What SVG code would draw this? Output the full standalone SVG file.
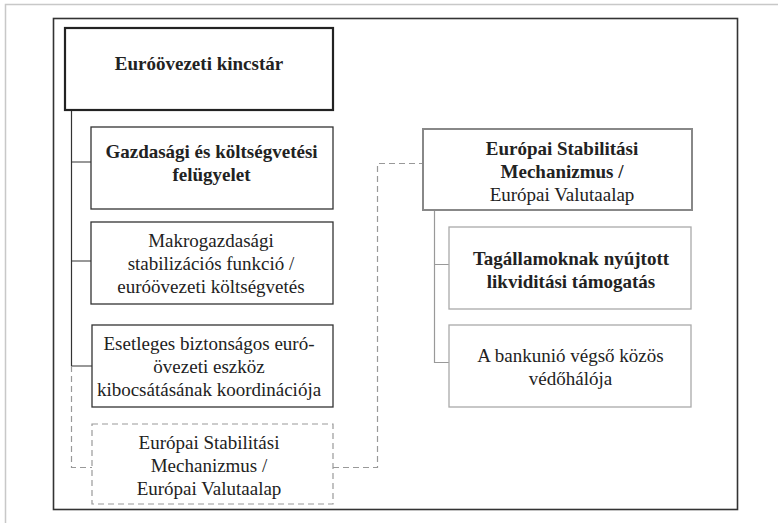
<svg xmlns="http://www.w3.org/2000/svg" width="778" height="523" viewBox="0 0 778 523">
<style>
text{font-family:'Liberation Serif','Times New Roman',serif;font-size:19px;fill:#222;text-anchor:middle}
.b{font-weight:bold}
.dark{fill:#fff;stroke:#333;stroke-width:1.3}
.light{fill:#fff;stroke:#aaa;stroke-width:1.3}
.dash{fill:#fff;stroke:#999;stroke-width:1.2;stroke-dasharray:6 4}
.cd{fill:none;stroke:#333;stroke-width:1.2}
.cl{fill:none;stroke:#999;stroke-width:1.2}
.cdash{fill:none;stroke:#999;stroke-width:1.2;stroke-dasharray:6 4}
</style>
<rect width="778" height="523" fill="#fff"/>
<path d="M5.5 523V4.5H778" fill="none" stroke="#c8c8c8" stroke-width="1.5"/>
<rect x="53.5" y="18.5" width="684" height="491" fill="none" stroke="#333" stroke-width="1.6"/>
<g id="connectors">
<path class="cd" d="M71.5 110V366M71.5 162H91M71.5 261H91M71.5 366H92"/>
<path class="cdash" d="M71.5 366V467.5H92"/>
<path class="cdash" d="M333 467.5H377.5V163.5H423"/>
<path class="cl" d="M434.5 210V362.5H449M434.5 264.5H449"/>
</g>
<g id="n1">
<rect x="65" y="28" width="268" height="82" fill="#fff" stroke="#222" stroke-width="2.2"/>
<text class="b" x="199" y="70">Euróövezeti kincstár</text>
</g>
<g id="n2">
<rect class="dark" x="91" y="127" width="242" height="82"/>
<text class="b" x="211.5" y="158">Gazdasági és költségvetési</text>
<text class="b" x="211.5" y="181">felügyelet</text>
</g>
<g id="n3">
<rect class="dark" x="91" y="222" width="242" height="82"/>
<text x="211" y="247">Makrogazdasági</text>
<text x="211" y="270">stabilizációs funkció /</text>
<text x="211" y="293">euróövezeti költségvetés</text>
</g>
<g id="n4">
<rect class="dark" x="92" y="325" width="241" height="82"/>
<text x="209" y="350">Esetleges biztonságos euró-</text>
<text x="209" y="373">övezeti eszköz</text>
<text x="209" y="396">kibocsátásának koordinációja</text>
</g>
<g id="n5">
<rect class="dash" x="92" y="424" width="241" height="80"/>
<text x="209" y="449">Európai Stabilitási</text>
<text x="209" y="472">Mechanizmus /</text>
<text x="209" y="495">Európai Valutaalap</text>
</g>
<g id="n6">
<rect x="423" y="129" width="269" height="81" fill="#fff" stroke="#888" stroke-width="2"/>
<text class="b" x="562" y="155">Európai Stabilitási</text>
<text class="b" x="562" y="178">Mechanizmus /</text>
<text x="562" y="201">Európai Valutaalap</text>
</g>
<g id="n7">
<rect class="light" x="449" y="227" width="242" height="82"/>
<text class="b" x="571" y="265">Tagállamoknak nyújtott</text>
<text class="b" x="571" y="288">likviditási támogatás</text>
</g>
<g id="n8">
<rect class="light" x="449" y="325" width="242" height="82"/>
<text x="570.5" y="362">A bankunió végső közös</text>
<text x="570.5" y="385">védőhálója</text>
</g>
</svg>
